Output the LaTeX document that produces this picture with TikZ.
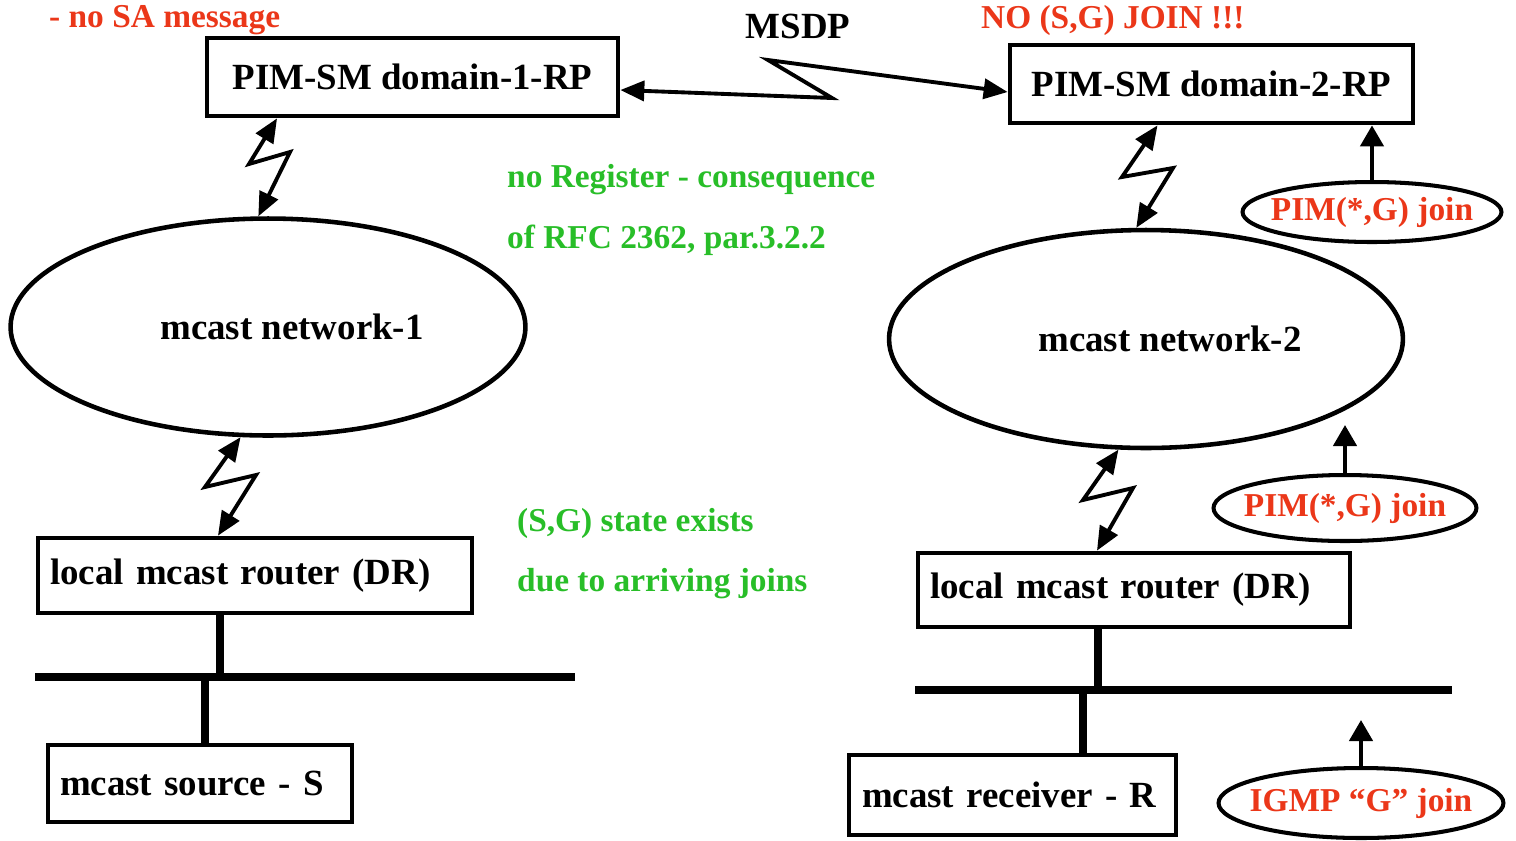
\documentclass[tikz,border=0pt]{standalone}
\usepackage{fontspec}
\setmainfont{Liberation Serif}
\usetikzlibrary{shapes.geometric,arrows.meta}
\definecolor{rtxt}{RGB}{235,55,25}
\definecolor{gtxt}{RGB}{40,190,40}
\tikzset{
  bigfont/.style={font=\bfseries\fontsize{21}{24}\selectfont},
  smallfont/.style={font=\bfseries\fontsize{19}{22}\selectfont},
  box/.style={draw, rectangle, line width=2.7pt, inner ysep=0pt, bigfont},
  lbox/.style={box, align=left, inner xsep=0.24cm, text width=#1},
  cloud/.style={draw, ellipse, line width=2.6pt, inner sep=0pt},
  joinell/.style={draw, ellipse, line width=2.3pt, inner sep=0pt},
  redlbl/.style={smallfont, text=rtxt},
  greenlbl/.style={smallfont, text=gtxt, anchor=west},
  blink/.style={line width=2.2pt, arrows={Triangle[length=0.48cm,width=0.4cm]-Triangle[length=0.48cm,width=0.4cm]}},
  uplink/.style={line width=2.5pt, arrows={-Triangle[length=0.42cm,width=0.46cm]}},
  wire/.style={line width=5pt},
  stub/.style={line width=4.4pt}
}
\begin{document}
\begin{tikzpicture}[x=0.02cm, y=-0.02cm]
\useasboundingbox[fill=white] (0,0) rectangle (1516,840);

% texts
\node[redlbl, anchor=west] (nosa) at (43,20) {- no SA message};
\node[bigfont] (msdp) at (798,26) {MSDP};
\node[redlbl, anchor=west] (nosg) at (975,20) {NO (S,G) JOIN !!!};
\node[greenlbl] (g1) at (501,180) {no Register - consequence};
\node[greenlbl] (g2) at (501,240) {of RFC 2362, par.3.2.2};
\node[greenlbl] (g3) at (511,523) {(S,G) state exists};
\node[greenlbl] (g4) at (511,584) {due to arriving joins};

% boxes
\node[box, minimum width=8.22cm, minimum height=1.56cm] (b1) at (412.5,77) {PIM-SM domain-1-RP};
\node[box, minimum width=8.06cm, minimum height=1.56cm] (b2) at (1211.5,84) {PIM-SM domain-2-RP};
\node[lbox=8.2cm, minimum height=1.5cm] (dr1) at (255,575.5) {local mcast router (DR)};
\node[lbox=8.16cm, minimum height=1.48cm] (dr2) at (1134,590) {local mcast router (DR)};
\node[lbox=5.6cm, minimum height=1.54cm] (src) at (200,783.5) {mcast source - S};
\node[lbox=6.02cm, minimum height=1.6cm, inner xsep=0.26cm] (rcv) at (1012.5,795) {mcast receiver - R};

% clouds
\node[cloud, minimum width=10.3cm, minimum height=4.34cm,
  label={[bigfont, xshift=0.48cm]center:mcast network-1}] (e1) at (268,327) {};
\node[cloud, minimum width=10.28cm, minimum height=4.36cm,
  label={[bigfont, xshift=0.48cm]center:mcast network-2}] (e2) at (1146,339) {};

% join ellipses
\node[joinell, minimum width=5.18cm, minimum height=1.2cm,
  label={[redlbl]center:{PIM(*,G) join}}] (j1) at (1372,212) {};
\node[joinell, minimum width=5.26cm, minimum height=1.32cm,
  label={[redlbl]center:{PIM(*,G) join}}] (j2) at (1345,508) {};
\node[joinell, minimum width=5.7cm, minimum height=1.4cm,
  label={[redlbl]center:{IGMP “G” join}}] (j3) at (1361,803) {};

% MSDP zigzag
\coordinate (m1) at (832,98);
\coordinate (m2) at (768,60);
\draw[blink] ([yshift=-0.26cm]b1.east) -- (m1) -- (m2) -- ([yshift=-0.16cm]b2.west);

% lightning links
\coordinate (c11) at (249,164); \coordinate (c12) at (290,152);
\draw[blink] ([xshift=-2.71cm]b1.south) -- (c11) -- (c12) -- (e1.95);
\coordinate (c21) at (205,487); \coordinate (c22) at (256,475);
\draw[blink] (e1.256) -- (c21) -- (c22) -- ([xshift=-0.74cm]dr1.north);
\coordinate (c31) at (1122,177); \coordinate (c32) at (1173,168);
\draw[blink] ([xshift=-1.08cm]b2.south) -- (c31) -- (c32) -- (e2.95);
\coordinate (c41) at (1083,500); \coordinate (c42) at (1133,488);
\draw[blink] (e2.256) -- (c41) -- (c42) -- ([xshift=-0.74cm]dr2.north);

% join arrows
\coordinate (t2) at (1345,425);
\coordinate (t3) at (1361,720);
\draw[uplink] (j1.north) -- (j1.north |- b2.south);
\draw[uplink] (j2.north) -- (j2.north |- t2);
\draw[uplink] (j3.north) -- (j3.north |- t3);

% LAN buses
\coordinate (bus1a) at (35,677); \coordinate (bus1b) at (575,677);
\coordinate (bus2a) at (915,690); \coordinate (bus2b) at (1452,690);
\draw[wire] (bus1a) -- (bus1b);
\draw[wire] (bus2a) -- (bus2b);
\draw[stub] ([xshift=-0.7cm]dr1.south) -- ([xshift=-0.7cm]dr1.south |- bus1a);
\draw[stub] ([xshift=0.1cm]src.north) -- ([xshift=0.1cm]src.north |- bus1a);
\draw[stub] ([xshift=-0.72cm]dr2.south) -- ([xshift=-0.72cm]dr2.south |- bus2a);
\draw[stub] ([xshift=1.41cm]rcv.north) -- ([xshift=1.41cm]rcv.north |- bus2a);
\end{tikzpicture}
\end{document}
